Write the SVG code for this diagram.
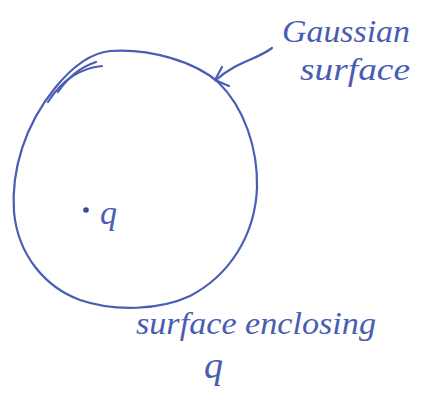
<svg xmlns="http://www.w3.org/2000/svg" width="424" height="405" viewBox="0 0 424 405">
<style>
.ink{fill:none;stroke:#4a5db3;stroke-width:2.2;stroke-linecap:round;stroke-linejoin:round}
.hand{font-family:"Liberation Serif",serif;font-style:italic;fill:#4a5db3}
</style>
<rect width="424" height="405" fill="#ffffff"/>
<g id="gaussian-surface">
<path class="ink" d="M110,51 C150,48 195,62 218,82 C245,108 258,150 257,188 C255,235 230,275 190,296 C160,310 115,312 80,300 C45,287 18,255 14,212 C11,170 25,125 55,88 C72,67 90,53 110,51 Z"/>
<path class="ink" d="M48,102 C62,80 80,68 102,66"/>
<path class="ink" d="M58,92 C70,74 84,66 96,62"/>
</g>
<g id="charge-q">
<circle cx="86" cy="210" r="2.8" fill="#3a4a9a"/>
<text class="hand" x="100" y="224" font-size="34">q</text>
</g>
<g id="label-gaussian">
<text class="hand" x="282" y="42" font-size="32" textLength="128" lengthAdjust="spacingAndGlyphs">Gaussian</text>
<text class="hand" x="300" y="80" font-size="32" textLength="110" lengthAdjust="spacingAndGlyphs">surface</text>
</g>
<g id="label-enclosing">
<text class="hand" x="136" y="334" font-size="32" textLength="240" lengthAdjust="spacingAndGlyphs">surface enclosing</text>
<text class="hand" x="204" y="378" font-size="38">q</text>
</g>
<g id="connectors">
<path class="ink" d="M272,48 C256,60 236,62 216,80"/>
<path class="ink" d="M222,67 L215,80 L229,86"/>
</g>
</svg>
